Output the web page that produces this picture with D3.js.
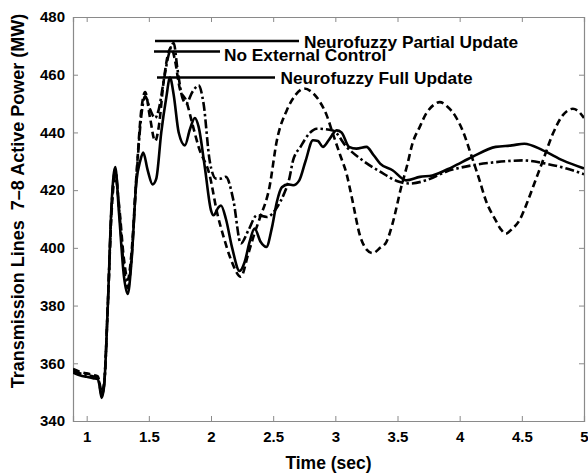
<!DOCTYPE html>
<html>
<head>
<meta charset="utf-8">
<script src="https://cdn.jsdelivr.net/npm/d3@7"></script>
<style>
  body { margin: 0; background: #fff; }
  svg { display: block; font-family: "Liberation Sans", Arial, sans-serif; font-weight: bold; }
</style>
</head>
<body>
<svg id="chart" width="588" height="476"></svg>
<script>
const xTicks = [1, 1.5, 2, 2.5, 3, 3.5, 4, 4.5, 5];
const yTicks = [340, 360, 380, 400, 420, 440, 460, 480];

// Neurofuzzy Partial Update (solid)
const tPartial = [0.89, 0.95, 1.0, 1.05, 1.09, 1.10, 1.12, 1.14, 1.17, 1.20, 1.23, 1.26, 1.30, 1.33, 1.36, 1.40, 1.43, 1.455, 1.49, 1.53, 1.56, 1.60, 1.64, 1.67, 1.70, 1.74, 1.79, 1.83, 1.87, 1.90, 1.95, 2.0, 2.02, 2.06, 2.08, 2.12, 2.17, 2.23, 2.27, 2.31, 2.35, 2.40, 2.445, 2.49, 2.53, 2.57, 2.62, 2.66, 2.71, 2.76, 2.82, 2.86, 2.90, 2.95, 3.01, 3.05, 3.11, 3.17, 3.25, 3.31, 3.36, 3.46, 3.57, 3.68, 3.78, 3.94, 4.1, 4.29, 4.42, 4.52, 4.67, 4.83, 5.0];
const vPartial = [356.8, 355.8, 355.3, 354.8, 354.5, 353, 348, 352, 380, 415, 428, 412, 390, 384, 395, 423, 430, 433, 427, 422, 424, 440, 452, 459, 453, 440, 435.5, 441, 445, 442, 428, 413, 411.3, 414, 414.7, 410, 400, 392, 395, 402, 406.7, 402, 400.3, 407, 416, 421, 422, 421.7, 423.4, 430, 437.3, 437, 435, 437.5, 440.7, 440, 435, 434.4, 435, 432, 429.2, 426.9, 423.4, 424.6, 425.1, 428, 431.5, 435, 435.5, 436.1, 433.8, 430.3, 427.5];

// No External Control (dashed)
const tNoCtrl = [0.89, 0.95, 1.0, 1.05, 1.09, 1.10, 1.12, 1.14, 1.17, 1.20, 1.23, 1.26, 1.30, 1.33, 1.36, 1.40, 1.44, 1.47, 1.51, 1.55, 1.58, 1.62, 1.66, 1.68, 1.71, 1.75, 1.80, 1.85, 1.90, 1.99, 2.05, 2.1, 2.16, 2.24, 2.30, 2.35, 2.39, 2.47, 2.53, 2.61, 2.68, 2.75, 2.81, 2.87, 2.93, 2.98, 3.04, 3.09, 3.13, 3.2, 3.25, 3.30, 3.36, 3.41, 3.46, 3.53, 3.58, 3.62, 3.68, 3.73, 3.79, 3.84, 3.9, 3.97, 4.03, 4.08, 4.16, 4.21, 4.29, 4.33, 4.37, 4.42, 4.48, 4.55, 4.61, 4.67, 4.75, 4.83, 4.87, 4.91, 4.95, 5.0];
const vNoCtrl = [358, 357, 356.5, 356, 355.5, 354, 350, 353, 380, 412, 425, 415, 396, 389, 398, 425, 448, 454, 445, 437, 442, 458, 468, 469.5, 465, 455, 451, 443, 435, 425, 412, 404, 396, 390, 398, 405, 410, 421, 437.3, 447.7, 453, 455.2, 454, 451, 446, 439.6, 432, 425.7, 418, 404, 399.5, 398.2, 400, 402, 408.4, 421.1, 429, 436.1, 442, 446.5, 449.5, 450.5, 449, 445.3, 440, 433.8, 423.4, 416.5, 409.5, 406.5, 404.9, 406.5, 409.5, 416.5, 423.4, 430.3, 439.6, 446, 447.6, 448.2, 447.5, 445];

// Neurofuzzy Full Update (dash-dot)
const tFull = [0.89, 0.95, 1.0, 1.05, 1.09, 1.10, 1.12, 1.14, 1.17, 1.20, 1.23, 1.26, 1.30, 1.33, 1.36, 1.40, 1.44, 1.47, 1.51, 1.55, 1.58, 1.62, 1.66, 1.70, 1.73, 1.77, 1.80, 1.85, 1.90, 1.94, 1.99, 2.04, 2.08, 2.12, 2.18, 2.24, 2.30, 2.37, 2.45, 2.53, 2.59, 2.63, 2.66, 2.72, 2.79, 2.85, 2.98, 3.09, 3.22, 3.36, 3.52, 3.6, 3.73, 3.89, 4.1, 4.29, 4.51, 4.69, 4.86, 5.0];
const vFull = [357.5, 356.5, 356, 355.5, 355, 353.5, 349, 352.5, 380, 414, 427, 414, 393, 386, 396, 424, 446, 452.5, 448, 445, 448, 458, 467, 471, 462, 452, 450, 454, 456.3, 450, 430, 424, 424, 424.6, 416.5, 401.5, 406, 411.3, 410.7, 414, 419, 424, 430.3, 435, 439.6, 441.3, 440.7, 435, 430.3, 426.4, 422.8, 422.3, 423.4, 426.4, 428.6, 429.7, 430.3, 429.2, 427.5, 425.5];

const seriesNames = ['Neurofuzzy Partial Update', 'No External Control', 'Neurofuzzy Full Update'];

const svg = d3.select('#chart');
const mLeft = 73, mRight = 584, mTop = 17, mBottom = 421;

const x = d3.scaleLinear().domain([0.89, 5]).range([mLeft, mRight]);
const y = d3.scaleLinear().domain([340, 480]).range([mBottom, mTop]);

svg.append('clipPath').attr('id', 'clip')
  .append('rect').attr('x', mLeft).attr('y', mTop - 2).attr('width', mRight - mLeft).attr('height', mBottom - mTop + 2);

const axisColor = '#8a8a8a';

// bottom axis with labels
const gx = svg.append('g')
  .attr('transform', `translate(0,${mBottom})`)
  .call(d3.axisBottom(x).tickValues(xTicks).tickSize(-5).tickPadding(10).tickFormat(d3.format('')));
// top axis, ticks only
const gxt = svg.append('g')
  .attr('transform', `translate(0,${mTop})`)
  .call(d3.axisTop(x).tickValues(xTicks).tickSize(-5).tickFormat(''));
// left axis with labels
const gy = svg.append('g')
  .attr('transform', `translate(${mLeft},0)`)
  .call(d3.axisLeft(y).tickValues(yTicks).tickSize(-5).tickPadding(8));
// right axis, ticks only
const gyr = svg.append('g')
  .attr('transform', `translate(${mRight},0)`)
  .call(d3.axisRight(y).tickValues(yTicks).tickSize(-5).tickFormat(''));

[gx, gxt, gy, gyr].forEach(g => {
  g.select('.domain').attr('stroke', axisColor).attr('stroke-width', 1.2);
  g.selectAll('.tick line').attr('stroke', axisColor);
  g.selectAll('.tick text')
    .attr('fill', '#000')
    .style('font-family', '"Liberation Sans", Arial, sans-serif')
    .style('font-weight', 'bold')
    .style('font-size', '15px');
});
gx.selectAll('.tick').filter(d => d === 5).select('line').remove();

// lines
const line = d3.line().x(d => x(d[0])).y(d => y(d[1])).curve(d3.curveMonotoneX);
const plot = svg.append('g').attr('clip-path', 'url(#clip)');

const series = [
  { t: tPartial, v: vPartial, dash: null },
  { t: tNoCtrl, v: vNoCtrl, dash: '7,4' },
  { t: tFull, v: vFull, dash: '9,3,2.5,3' }
];

series.forEach(s => {
  plot.append('path')
    .datum(d3.zip(s.t, s.v))
    .attr('fill', 'none')
    .attr('stroke', '#000')
    .attr('stroke-width', 2.6)
    .attr('stroke-dasharray', s.dash)
    .attr('stroke-linejoin', 'round')
    .attr('d', line);
});

// legend (MATLAB-style, lines with labels)
const legend = [
  { x1: 155, x2: 299, ly: 41, tx: 304, ty: 47.5 },
  { x1: 154, x2: 220, ly: 51.5, tx: 224, ty: 61 },
  { x1: 157, x2: 275, ly: 77.5, tx: 280.5, ty: 83.5 }
];
legend.forEach((l, i) => {
  svg.append('line')
    .attr('x1', l.x1).attr('x2', l.x2).attr('y1', l.ly).attr('y2', l.ly)
    .attr('stroke', '#000').attr('stroke-width', 2.6);
  svg.append('text')
    .attr('x', l.tx).attr('y', l.ty)
    .style('font-size', '17.3px')
    .text(seriesNames[i]);
});

// axis titles
svg.append('text')
  .attr('x', (mLeft + mRight) / 2).attr('y', 469)
  .attr('text-anchor', 'middle')
  .style('font-size', '17.5px')
  .text('Time (sec)');

svg.append('text')
  .attr('transform', 'translate(23.5,201) rotate(-90)')
  .attr('text-anchor', 'middle')
  .style('font-size', '18px')
  .style('white-space', 'pre')
  .text('Transmission Lines  7\u20138 Active Power (MW)');
</script>
</body>
</html>
